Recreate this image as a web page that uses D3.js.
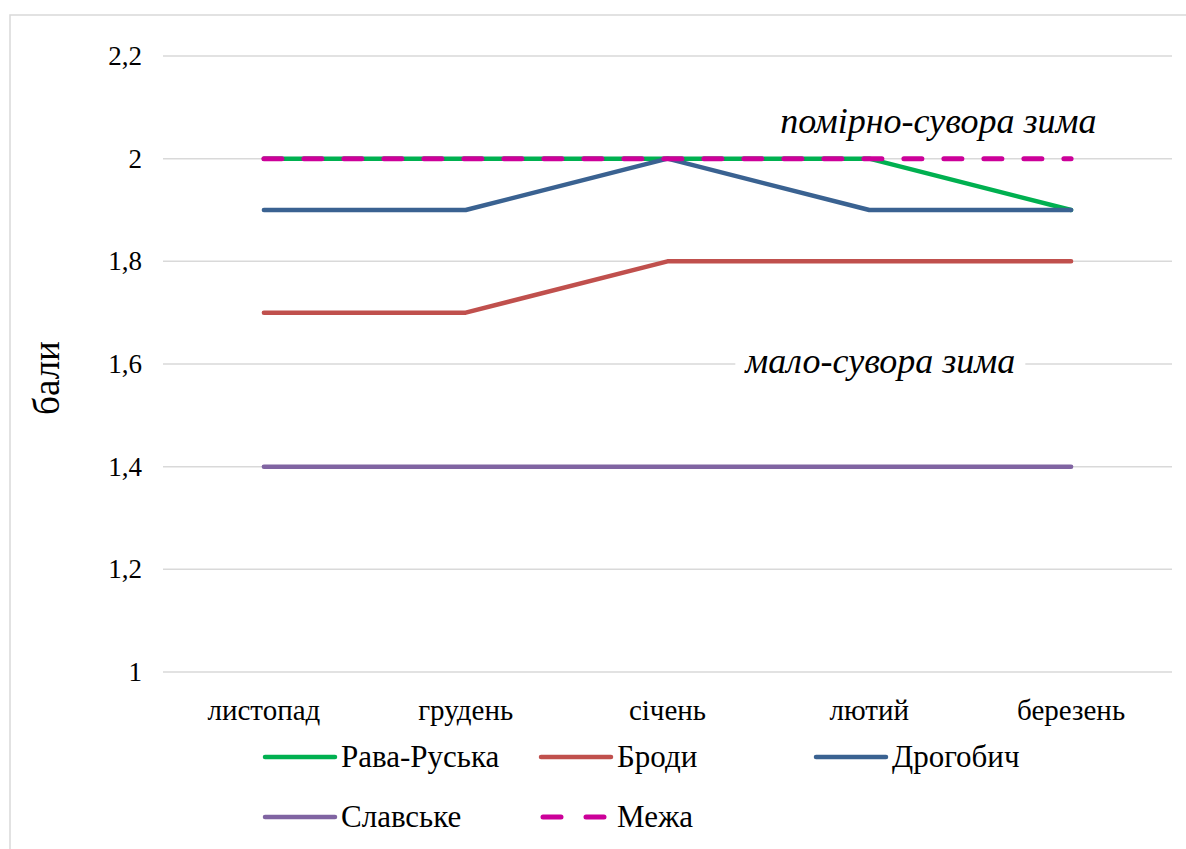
<!DOCTYPE html>
<html>
<head>
<meta charset="utf-8">
<script src="https://cdn.jsdelivr.net/npm/d3@7"></script>
<style>
  body { margin: 0; background: #fff; }
</style>
</head>
<body>
<div id="chart"></div>
<script>
let months = ['листопад', 'грудень', 'січень', 'лютий', 'березень'];
let ravaRuska = [2, 2, 2, 2, 1.9];
let brody = [1.7, 1.7, 1.8, 1.8, 1.8];
let drohobych = [1.9, 1.9, 2, 1.9, 1.9];
let slavske = [1.4, 1.4, 1.4, 1.4, 1.4];
let mezha = [2, 2, 2, 2, 2];
let yTicks = [1, 1.2, 1.4, 1.6, 1.8, 2, 2.2];

let series = [
  {name: 'Рава-Руська', values: ravaRuska, color: '#00B050', dash: null},
  {name: 'Броди', values: brody, color: '#C0504D', dash: null},
  {name: 'Дрогобич', values: drohobych, color: '#3A6291', dash: null},
  {name: 'Славське', values: slavske, color: '#8064A2', dash: null},
  {name: 'Межа', values: mezha, color: '#CC0099', dash: '18,22'}
];

let W = 1186, H = 849;
let margin = {top: 56, right: 14, bottom: 177, left: 163},
    width = W - margin.left - margin.right,
    height = H - margin.top - margin.bottom;

let svg = d3.select('#chart')
  .append('svg')
    .attr('width', W)
    .attr('height', H);

// chart frame
svg.append('rect')
  .attr('x', 10).attr('y', 15)
  .attr('width', W + 20).attr('height', H + 20)
  .attr('fill', 'none')
  .attr('stroke', '#d9d9d9')
  .attr('stroke-width', 1.5);

let g = svg.append('g')
  .attr('transform', `translate(${margin.left},${margin.top})`);

let x = d3.scaleBand()
  .domain(months)
  .range([0, width]);

let y = d3.scaleLinear()
  .domain([1, 2.2])
  .range([height, 0]);

// gridlines
g.selectAll('.grid')
  .data(yTicks)
  .enter()
  .append('line')
    .attr('class', 'grid')
    .attr('x1', 0).attr('x2', width)
    .attr('y1', d => y(d)).attr('y2', d => y(d))
    .attr('stroke', '#d9d9d9')
    .attr('stroke-width', 1.5);

// y labels
g.selectAll('.ylab')
  .data(yTicks)
  .enter()
  .append('text')
    .attr('class', 'ylab')
    .style('font-family', "'Liberation Serif'")
    .style('font-size', '27px')
    .attr('x', -21)
    .attr('y', d => y(d) + 9)
    .attr('text-anchor', 'end')
    .text(d => d3.format('.1~f')(d).replace('.', ','));

// x labels
g.selectAll('.xlab')
  .data(months)
  .enter()
  .append('text')
    .attr('class', 'xlab')
    .style('font-family', "'Liberation Serif'")
    .style('font-size', '29px')
    .attr('x', d => x(d) + x.bandwidth() / 2)
    .attr('y', height + 48)
    .attr('text-anchor', 'middle')
    .text(d => d);

// axis title
svg.append('text')
  .style('font-family', "'Liberation Serif'")
  .style('font-size', '37px')
  .attr('transform', `translate(59,378) rotate(-90)`)
  .attr('text-anchor', 'middle')
  .text('бали');

// annotations
g.append('text')
  .style('font-family', "'Liberation Serif'")
  .style('font-size', '36px')
  .style('font-style', 'italic')
  .attr('x', x('лютий') + x.bandwidth() / 2 + 69)
  .attr('y', y(2) - 26)
  .attr('text-anchor', 'middle')
  .text('помірно-сувора зима');

let lowLabel = g.append('g')
  .attr('transform', `translate(${x('лютий') + x.bandwidth() / 2 + 11},${y(1.6)})`);
lowLabel.append('rect')
  .attr('x', -145).attr('y', -20)
  .attr('width', 290).attr('height', 40)
  .attr('fill', '#fff');
lowLabel.append('text')
  .style('font-family', "'Liberation Serif'")
  .style('font-size', '36px')
  .style('font-style', 'italic')
  .attr('text-anchor', 'middle')
  .attr('y', 9)
  .text('мало-сувора зима');

// lines
let line = d3.line()
  .x((d, i) => x(months[i]) + x.bandwidth() / 2)
  .y(d => y(d));

g.selectAll('.series')
  .data(series)
  .enter()
  .append('path')
    .attr('class', 'series')
    .attr('d', d => line(d.values))
    .attr('fill', 'none')
    .attr('stroke', d => d.color)
    .attr('stroke-width', d => d.dash ? 5 : 4.5)
    .attr('stroke-linecap', 'round')
    .attr('stroke-linejoin', 'round')
    .attr('stroke-dasharray', d => d.dash);

// legend
let legendPos = [
  {x: 265, y: 757}, {x: 541, y: 757}, {x: 816, y: 757},
  {x: 265, y: 817}, {x: 541, y: 817}
];
let legend = svg.selectAll('.legend')
  .data(series)
  .enter()
  .append('g')
    .attr('class', 'legend')
    .attr('transform', (d, i) => `translate(${legendPos[i].x},${legendPos[i].y})`);
legend.append('line')
  .attr('x1', 0).attr('x2', 70)
  .attr('stroke', d => d.color)
  .attr('stroke-width', d => d.dash ? 5 : 4.5)
  .attr('stroke-linecap', 'round')
  .attr('stroke-dasharray', d => d.dash ? '18,25' : null)
  .attr('transform', d => d.dash ? 'translate(2,0)' : null);
legend.append('text')
  .style('font-family', "'Liberation Serif'")
  .style('font-size', '31px')
  .attr('x', 76)
  .attr('y', 10)
  .text(d => d.name);
</script>
</body>
</html>
